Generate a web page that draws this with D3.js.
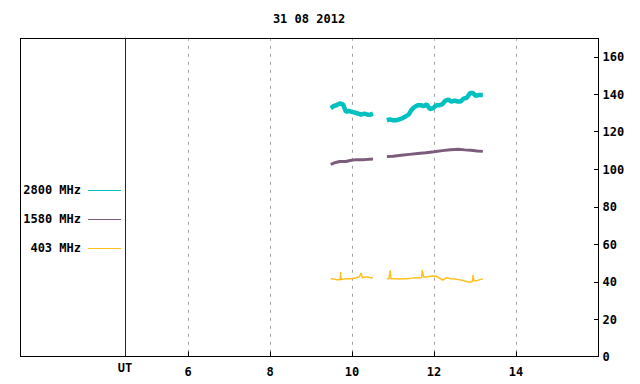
<!DOCTYPE html>
<html>
<head>
<meta charset="utf-8">
<script src="https://cdn.jsdelivr.net/npm/d3@7"></script>
<style>
  body { margin: 0; background: #fff; }
  text { font-family: "DejaVu Sans Mono", monospace; font-weight: bold; font-size: 12px; fill: #000; }
</style>
</head>
<body>
<div id="chart"></div>
<script>
// radio flux, 31 08 2012 -- hours UT vs flux (sfu); null = gap in the record
const title = "31 08 2012";
const hourTicks = [6, 8, 10, 12, 14];
const fluxTicks = [0, 20, 40, 60, 80, 100, 120, 140, 160];
const utMark = 4.46;

const hours2800 = [9.48, 9.55, 9.62, 9.70, 9.78, 9.85, 9.92, 10.00, 10.08, 10.15, 10.22, 10.30, 10.38, 10.45, 10.51, 10.68,
  10.85, 10.92, 11.00, 11.08, 11.15, 11.22, 11.30, 11.38, 11.45, 11.52, 11.60, 11.68, 11.75, 11.82, 11.90, 11.98,
  12.05, 12.12, 12.20, 12.28, 12.35, 12.42, 12.50, 12.58, 12.65, 12.72, 12.80, 12.88, 12.95, 13.02, 13.10, 13.19];
const flux2800 = [132.5, 133.5, 134, 135, 134.5, 130.5, 131, 130.5, 130, 129.5, 129, 129.5, 129, 129, 129.5, null,
  126, 126.5, 126, 126, 126.5, 127, 128, 129, 131.5, 133, 134, 134, 133.5, 134.5, 132, 132.5,
  134, 134, 134.5, 136.5, 137, 136, 136.5, 136, 136, 137.5, 138, 140.5, 140.5, 139, 139.5, 139.5];

const hours1580 = [9.48, 9.60, 9.70, 9.85, 9.95, 10.10, 10.30, 10.51, 10.68,
  10.85, 11.00, 11.20, 11.40, 11.60, 11.80, 12.00, 12.20, 12.40, 12.60, 12.75, 12.90, 13.05, 13.19];
const flux1580 = [102.5, 103.5, 104, 104, 104.5, 105, 105, 105.3, null,
  106.6, 106.8, 107.3, 107.8, 108.3, 108.7, 109.2, 109.8, 110.3, 110.5, 110.2, 110, 109.6, 109.4];

const hours403 = [9.48, 9.55, 9.62, 9.71, 9.72, 9.73, 9.80, 9.90, 10.00, 10.10, 10.18, 10.22, 10.25, 10.35, 10.45, 10.51, 10.68,
  10.85, 10.90, 10.93, 10.95, 11.05, 11.15, 11.25, 11.35, 11.45, 11.55, 11.70, 11.71, 11.75, 11.85, 11.95, 12.05,
  12.12, 12.21, 12.31, 12.40, 12.50, 12.60, 12.70, 12.80, 12.87, 12.94, 12.95, 12.97, 13.04, 13.12, 13.19];
const flux403 = [41.5, 41.3, 41, 41, 45, 41, 41.3, 41.5, 41.5, 42, 42.5, 44.5, 42, 42.5, 42, 42, null,
  41.5, 41.5, 46, 41.5, 41.5, 41.3, 41.5, 41.5, 41.8, 42, 42, 46, 42.3, 42.5, 42.9, 42.8,
  42, 40.8, 42, 41.5, 41.3, 41, 40.5, 40, 39.6, 40, 43.5, 40.5, 40.4, 41, 41.3];

const legendLabels = ["2800 MHz", "1580 MHz", "403 MHz"];
const seriesColors = ["#00c0c0", "#7c5c7c", "#ffc020"];
const seriesWidths = [4.5, 3, 1.5];

const series = [
  hours2800.map((h, i) => ({h, v: flux2800[i]})),
  hours1580.map((h, i) => ({h, v: flux1580[i]})),
  hours403.map((h, i) => ({h, v: flux403[i]}))
];

const width = 640, height = 384;
const svg = d3.select("#chart").append("svg")
  .attr("width", width).attr("height", height);

const x = d3.scaleLinear().domain([1.9, 16]).range([20, 598]);
const y = d3.scaleLinear().domain([0, 170]).range([356.5, 37.75]);
const px = v => Math.round(v) + 0.5;

svg.append("text").attr("x", 309).attr("y", 23).attr("text-anchor", "middle").text(title);

// dashed grid at hour ticks
svg.append("g").selectAll("line").data(hourTicks).join("line")
  .attr("x1", d => px(x(d))).attr("x2", d => px(x(d)))
  .attr("y1", y(170)).attr("y2", y(0))
  .attr("stroke", "#a0a0a0").attr("stroke-dasharray", "3,5");

// inward bottom ticks
svg.append("g").selectAll("line").data(hourTicks).join("line")
  .attr("x1", d => px(x(d))).attr("x2", d => px(x(d)))
  .attr("y1", y(0)).attr("y2", y(0) - 5)
  .attr("stroke", "#000");

svg.append("g").selectAll("text").data(hourTicks).join("text")
  .attr("x", d => x(d)).attr("y", 376).attr("text-anchor", "middle").text(d => d);

// UT marker
svg.append("line")
  .attr("x1", px(x(utMark))).attr("x2", px(x(utMark)))
  .attr("y1", y(170)).attr("y2", y(0)).attr("stroke", "#800000");
svg.append("text").attr("x", x(utMark)).attr("y", 372).attr("text-anchor", "middle").text("UT");

// right axis
const yAxis = d3.axisRight(y).tickValues(fluxTicks).tickSize(0).tickPadding(0);
const ya = svg.append("g").attr("transform", "translate(598.5,0)").call(yAxis);
ya.select(".domain").remove();
ya.selectAll("text").attr("x", 4).attr("dy", "0.35em").attr("font-family", null).attr("font-size", null);
svg.append("g").selectAll("line").data(fluxTicks.filter(d => d > 0)).join("line")
  .attr("x1", 594).attr("x2", 598.5)
  .attr("y1", d => px(y(d))).attr("y2", d => px(y(d)))
  .attr("stroke", "#000");

// series
const line = d3.line()
  .defined(d => d.v != null)
  .x(d => x(d.h)).y(d => y(d.v));

svg.append("g").selectAll("path").data(series).join("path")
  .attr("fill", "none")
  .attr("stroke", (d, i) => seriesColors[i])
  .attr("stroke-width", (d, i) => seriesWidths[i])
  .attr("stroke-linejoin", "bevel")
  .attr("d", line);

// legend
const leg = svg.append("g").selectAll("g").data(legendLabels).join("g")
  .attr("transform", (d, i) => `translate(0,${190 + i * 29})`);
leg.append("text").attr("x", 81).attr("dy", "0.35em").attr("text-anchor", "end").text(d => d);
leg.append("line").attr("x1", 88).attr("x2", 121).attr("y1", 0.5).attr("y2", 0.5)
  .attr("stroke", (d, i) => seriesColors[i]);

// frame
svg.append("rect").attr("x", 20.5).attr("y", 38.5).attr("width", 578).attr("height", 318)
  .attr("fill", "none").attr("stroke", "#000");
</script>
</body>
</html>
